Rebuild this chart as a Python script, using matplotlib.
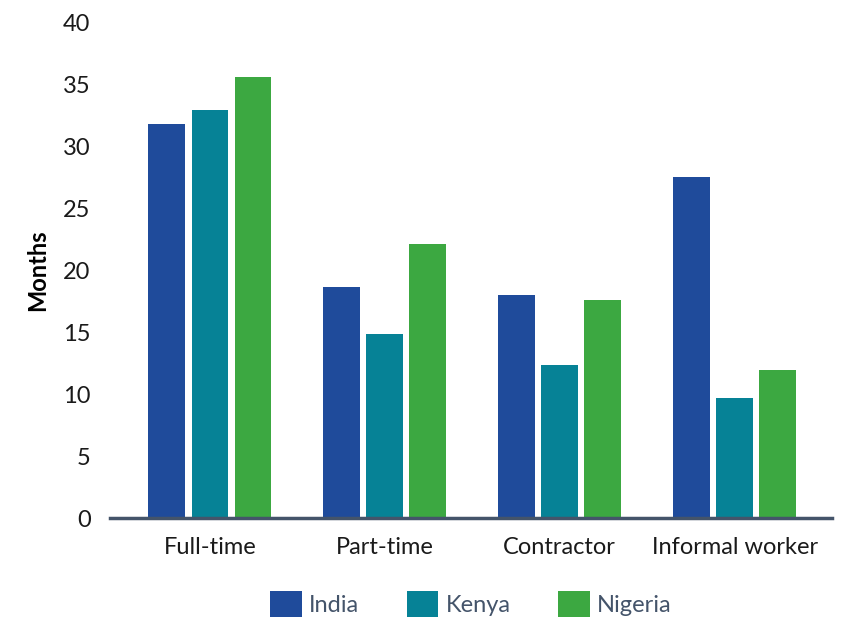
import numpy as np
import matplotlib.pyplot as plt

categories = ["Full-time", "Part-time", "Contractor", "Informal worker"]
countries = ["India", "Kenya", "Nigeria"]
india = [31.8, 18.6, 18.0, 27.5]
kenya = [32.9, 14.8, 12.3, 9.7]
nigeria = [35.6, 22.1, 17.6, 11.9]
colors = ["#1f4b9b", "#068296", "#3ca841"]

plt.rcParams['font.family'] = ['Lato', 'DejaVu Sans']

fig = plt.figure(figsize=(8.46, 6.2), dpi=100)
ax = fig.add_axes([0.130, 0.1645, 0.853, 0.80])

x = np.arange(len(categories))
width = 0.21
step = 0.246
for i, (vals, name) in enumerate(zip([india, kenya, nigeria], countries)):
    ax.bar(x + (i - 1) * step, vals, width, color=colors[i], label=name)

ax.set_xlim(-0.571, 3.554)
ax.set_ylim(0, 40)
ax.set_yticks(range(0, 41, 5))
ax.set_xticks(x)
ax.set_xticklabels(categories)
ax.tick_params(axis="both", length=0, labelsize=17, colors="#1a1a1a")
ax.tick_params(axis="x", pad=14)
ax.tick_params(axis="y", pad=14)
ax.set_ylabel("Months", fontsize=17, fontweight="bold", labelpad=10)

for s in ["top", "right", "left"]:
    ax.spines[s].set_visible(False)
ax.spines["bottom"].set_color("#44546a")
ax.spines["bottom"].set_linewidth(2.5)

leg = ax.legend(loc="center", bbox_to_anchor=(0.5, -0.173), ncol=3,
                frameon=False, fontsize=17, handlelength=1.35, handleheight=1.3,
                columnspacing=2.0, handletextpad=0.3)
for t in leg.get_texts():
    t.set_color("#44546a")

fig.savefig("out.png", dpi=100)
